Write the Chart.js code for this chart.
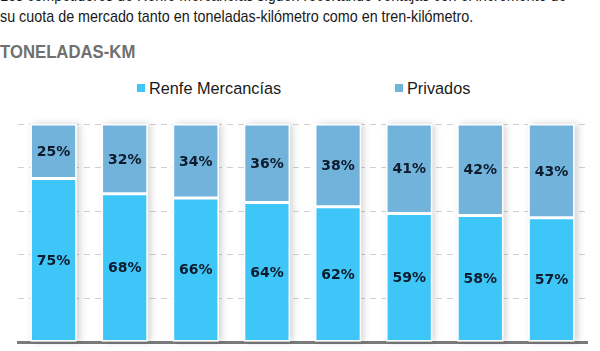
<!DOCTYPE html>
<html>
<head>
<meta charset="utf-8">
<script src="https://cdn.jsdelivr.net/npm/chart.js@4"></script>
<style>
  body { margin: 0; width: 600px; height: 351px; overflow: hidden; background: #fff; position: relative; font-family: "Liberation Sans", sans-serif; }
  .intro { position: absolute; left: 0; top: -15px; width: 800px; font-size: 17px; line-height: 21px; color: #1a1a1a; white-space: nowrap; transform: scaleX(0.843); transform-origin: 0 0; }
  .title { position: absolute; left: 0; top: 41px; font-size: 19px; font-weight: bold; color: #707070; white-space: nowrap; transform: scaleX(0.88); transform-origin: 0 0; }
  .legend { position: absolute; top: 79px; left: 0; width: 600px; height: 22px; font-size: 16.3px; color: #1a1a1a; }
  .legend span { position: absolute; white-space: nowrap; }
  .legend i { display: inline-block; width: 8px; height: 8px; margin-right: 4px; vertical-align: 2px; }
  #wrap { position: absolute; left: 0; top: 110px; width: 600px; height: 241px; }
</style>
</head>
<body>
<div class="intro">Los competidores de Renfe Mercancías siguen recortando ventajas con el incremento de<br>su cuota de mercado tanto en toneladas-kilómetro como en tren-kilómetro.</div>
<div class="title">TONELADAS-KM</div>
<div class="legend" id="legend"></div>
<div id="wrap"><canvas id="chart" width="600" height="241"></canvas></div>
<script>
// años (no se muestran en el gráfico)
const years = ['2010', '2011', '2012', '2013', '2014', '2015', '2016', '2017'];
const renfe = [75, 68, 66, 64, 62, 59, 58, 57];
const privados = [25, 32, 34, 36, 38, 41, 42, 43];
const seriesNames = ['Renfe Mercancías', 'Privados'];
const seriesColors = ['#3ec6f8', '#72b3db'];

// leyenda en html
const legendPos = [137, 395];
const legend = document.getElementById('legend');
seriesNames.forEach((name, i) => {
  const s = document.createElement('span');
  s.style.left = legendPos[i] + 'px';
  s.innerHTML = '<i style="background:' + seriesColors[i] + '"></i>' + name;
  legend.appendChild(s);
});

// sombra detrás de cada columna
const shadowPlugin = {
  id: 'barShadow',
  beforeDatasetsDraw(chart) {
    const ctx = chart.ctx;
    const bottom = chart.getDatasetMeta(0).data;
    const top = chart.getDatasetMeta(1).data;
    ctx.save();
    ctx.shadowColor = 'rgba(0,0,0,0.18)';
    ctx.shadowBlur = 7;
    ctx.shadowOffsetX = 3;
    ctx.fillStyle = '#fff';
    bottom.forEach((bar, i) => {
      const w = bar.width;
      ctx.fillRect(bar.x - w / 2, top[i].y, w, bar.base - top[i].y);
    });
    ctx.restore();
  }
};

// etiquetas de porcentaje
const labelPlugin = {
  id: 'pctLabels',
  afterDatasetsDraw(chart) {
    const ctx = chart.ctx;
    ctx.save();
    ctx.font = 'bold 14px "DejaVu Sans"';
    ctx.fillStyle = '#0d1b2c';
    ctx.textAlign = 'center';
    ctx.textBaseline = 'middle';
    chart.data.datasets.forEach((ds, d) => {
      chart.getDatasetMeta(d).data.forEach((bar, i) => {
        ctx.fillText(ds.data[i] + '%', bar.x, (bar.y + bar.base) / 2 + 1);
      });
    });
    ctx.restore();
  }
};

new Chart(document.getElementById('chart'), {
  type: 'bar',
  data: {
    labels: years,
    datasets: [
      { label: seriesNames[0], data: renfe, backgroundColor: seriesColors[0], borderColor: '#fff', borderWidth: 1.5, borderSkipped: false },
      { label: seriesNames[1], data: privados, backgroundColor: seriesColors[1], borderColor: '#fff', borderWidth: 1.5, borderSkipped: false }
    ]
  },
  options: {
    responsive: false,
    animation: false,
    layout: { padding: { left: 18, right: 13, top: 14, bottom: 1 } },
    plugins: { legend: { display: false }, tooltip: { enabled: false } },
    datasets: { bar: { categoryPercentage: 1, barPercentage: 0.65 } },
    scales: {
      x: {
        stacked: true,
        ticks: { display: false },
        grid: { display: false },
        border: { display: true, color: '#7a7a7a', width: 3 }
      },
      y: {
        stacked: true,
        min: 0,
        max: 100,
        ticks: { display: false, stepSize: 20 },
        grid: { color: '#d0d0d0', lineWidth: 1, drawTicks: false },
        border: { display: false, dash: [6, 5] }
      }
    }
  },
  plugins: [shadowPlugin, labelPlugin]
});
</script>
</body>
</html>
